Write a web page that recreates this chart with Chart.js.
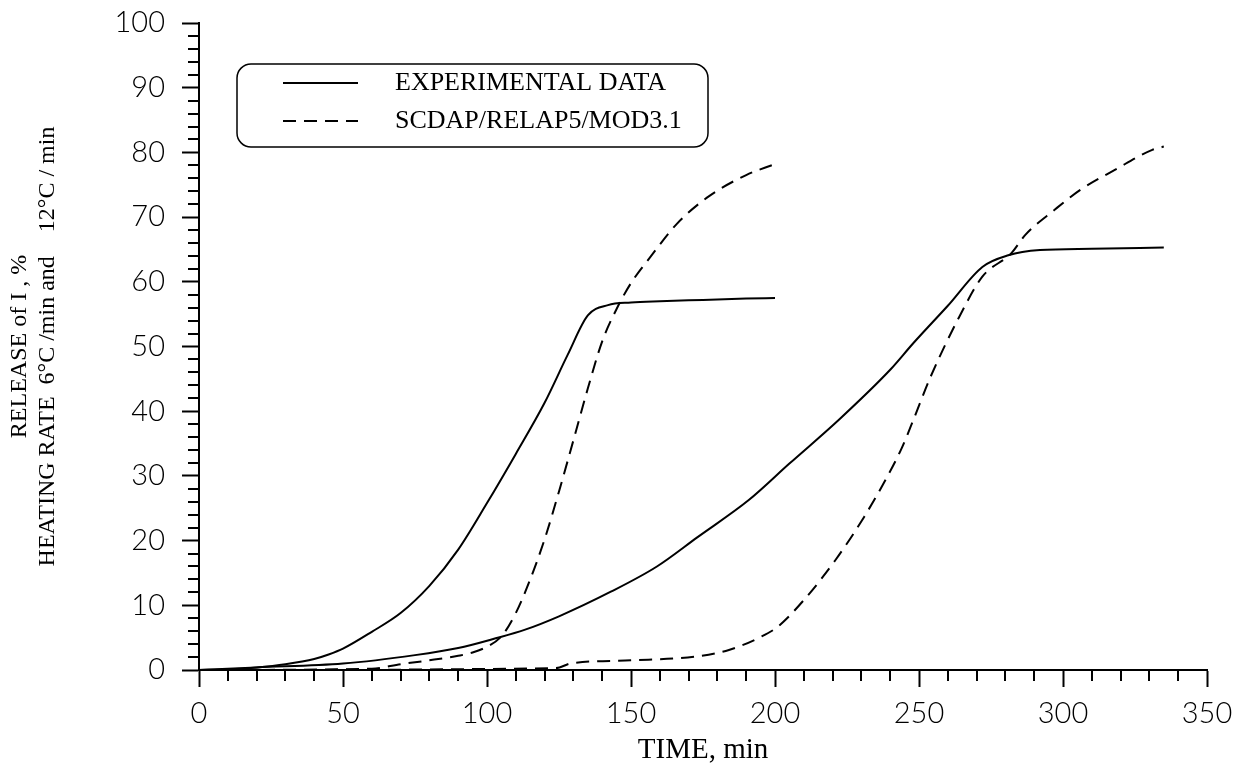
<!DOCTYPE html>
<html>
<head>
<meta charset="utf-8">
<script src="https://cdn.jsdelivr.net/npm/chart.js@4.4.1/dist/chart.umd.min.js"></script>
<style>
    html, body { margin: 0; padding: 0; background: #fff; }
    #wrap { width: 1249px; height: 772px; }
</style>
</head>
<body>
<div id="wrap"><canvas id="chart"></canvas></div>
<script>
// release of iodine, heating rate 6 C/min
const exp6Time = [0, 10, 20, 30, 40, 45, 50, 60, 70, 80, 90, 100, 110, 120, 128, 135, 142, 150, 160, 175, 190, 200]
const exp6Value = [0, 0.1, 0.4, 0.9, 1.7, 2.4, 3.3, 5.9, 8.8, 13.0, 18.6, 25.8, 33.4, 41.3, 48.7, 54.8, 56.4, 56.8, 57.0, 57.2, 57.4, 57.5]
const calc6Time = [0, 60, 70, 80, 90, 95, 100, 105, 110, 115, 120, 125, 130, 135, 140, 145, 150, 157, 166, 177, 190, 200]
const calc6Value = [0, 0.2, 0.9, 1.5, 2.2, 2.7, 3.6, 5.2, 8.8, 14.0, 20.2, 27.6, 35.5, 43.5, 50.8, 55.8, 59.8, 64.0, 69.0, 73.2, 76.5, 78.2]

// heating rate 12 C/min
const exp12Time = [0, 20, 50, 75, 90, 103, 113, 125, 143, 159, 173, 191, 205, 222, 240, 248, 260, 272, 281, 292, 310, 335]
const exp12Value = [0, 0.4, 1.0, 2.3, 3.4, 4.9, 6.2, 8.3, 12.1, 16.0, 20.5, 26.3, 31.9, 38.6, 46.4, 50.5, 56.3, 62.3, 64.1, 64.9, 65.1, 65.3]
const calc12Time = [0, 124, 129, 150, 173, 184, 195, 201, 210, 221, 231, 239, 244, 248, 254, 264, 272, 282, 287, 297, 306, 318, 331, 335]
const calc12Value = [0, 0.3, 1.0, 1.5, 2.1, 3.1, 5.1, 6.7, 10.8, 17.0, 23.7, 29.9, 34.3, 38.6, 45.3, 54.6, 60.8, 64.4, 67.3, 71.1, 74.2, 77.3, 80.4, 80.9]

const seriesLabels = ['EXPERIMENTAL DATA', 'SCDAP/RELAP5/MOD3.1']
const xTitle = 'TIME, min'
const yTitle = ['RELEASE of I , %', 'HEATING RATE  6°C /min and    12°C / min']

const dash = [13, 8]
const serif = '"Liberation Serif", "Times New Roman", serif'
const sans = 'Lato, "DejaVu Sans", sans-serif'

const toPoints = (t, v) => t.map((x, i) => ({ x: x, y: v[i] }))

const line = (label, t, v, dashed) => ({
    label: label,
    data: toPoints(t, v),
    borderColor: '#000',
    borderWidth: 2,
    borderDash: dashed ? dash : [],
    pointRadius: 0,
    cubicInterpolationMode: 'monotone',
    fill: false,
    clip: false
})

// small ticks between the labelled ones
const minorTicks = {
    id: 'minorTicks',
    afterDraw(chart) {
        const { ctx, scales } = chart
        const x = scales.x, y = scales.y
        ctx.save()
        ctx.strokeStyle = '#000'
        ctx.lineWidth = 2
        ctx.beginPath()
        for (let v = 0; v <= 100; v += 2) {
            if (v % 10 === 0) continue
            const py = Math.round(y.getPixelForValue(v))
            ctx.moveTo(y.right, py)
            ctx.lineTo(y.right - 11, py)
        }
        for (let t = 0; t <= 350; t += 10) {
            if (t % 50 === 0) continue
            const px = Math.round(x.getPixelForValue(t))
            ctx.moveTo(px, x.top)
            ctx.lineTo(px, x.top + 11)
        }
        ctx.stroke()
        ctx.restore()
    }
}

// boxed legend with rounded corners, one row per series label
const legendBox = {
    id: 'legendBox',
    afterDraw(chart) {
        const { ctx, chartArea } = chart
        const left = chartArea.left + 38
        const top = chartArea.top + 41
        const items = []
        chart.data.datasets.forEach(ds => {
            if (!items.find(i => i.label === ds.label))
                items.push({ label: ds.label, dash: ds.borderDash })
        })
        ctx.save()
        ctx.strokeStyle = '#000'
        ctx.fillStyle = '#000'
        ctx.lineWidth = 1.5
        ctx.beginPath()
        ctx.roundRect(left, top, 471, 83, 14)
        ctx.stroke()
        ctx.font = '26px ' + serif
        ctx.textBaseline = 'middle'
        items.forEach((item, i) => {
            const ly = top + 19 + i * 38
            ctx.lineWidth = 2
            ctx.setLineDash(item.dash)
            ctx.beginPath()
            ctx.moveTo(left + 46, ly)
            ctx.lineTo(left + 121, ly)
            ctx.stroke()
            ctx.setLineDash([])
            ctx.fillText(item.label, left + 158, ly)
        })
        ctx.restore()
    }
}

const createChart = () => {
    const ctx = document.getElementById('chart').getContext('2d')
    return new Chart(ctx, {
        type: 'line',
        data: {
            datasets: [
                line(seriesLabels[0], exp6Time, exp6Value, false),
                line(seriesLabels[1], calc6Time, calc6Value, true),
                line(seriesLabels[0], exp12Time, exp12Value, false),
                line(seriesLabels[1], calc12Time, calc12Value, true)
            ]
        },
        options: {
            responsive: true,
            maintainAspectRatio: false,
            animation: false,
            layout: { padding: { top: 23, right: 42, left: 0, bottom: 0 } },
            plugins: {
                legend: { display: false },
                tooltip: { enabled: false }
            },
            scales: {
                x: {
                    type: 'linear',
                    min: 0,
                    max: 350,
                    afterFit: scale => {
                        scale.height = 102
                        scale.paddingRight = 0
                    },
                    border: { color: '#000', width: 2 },
                    grid: { drawOnChartArea: false, tickLength: 17, tickColor: '#000', tickWidth: 2 },
                    ticks: { stepSize: 50, color: '#000', padding: 9, maxRotation: 0, font: { family: sans, size: 29, weight: 300 } },
                    title: { display: true, text: xTitle, color: '#000', padding: { top: 0, bottom: 4 }, font: { family: serif, size: 29 } }
                },
                y: {
                    min: 0,
                    max: 100,
                    afterFit: scale => {
                        scale.width = 199
                        scale.paddingTop = 0
                    },
                    border: { color: '#000', width: 2 },
                    grid: { drawOnChartArea: false, tickLength: 17, tickColor: '#000', tickWidth: 2 },
                    ticks: { stepSize: 10, color: '#000', padding: 17, font: { family: sans, size: 29, weight: 300 } },
                    title: { display: true, text: yTitle, color: '#000', padding: { top: 5, bottom: 0 }, font: { family: serif, size: 24, lineHeight: 1.2 } }
                }
            }
        },
        plugins: [minorTicks, legendBox]
    })
}

createChart()
</script>
</body>
</html>
